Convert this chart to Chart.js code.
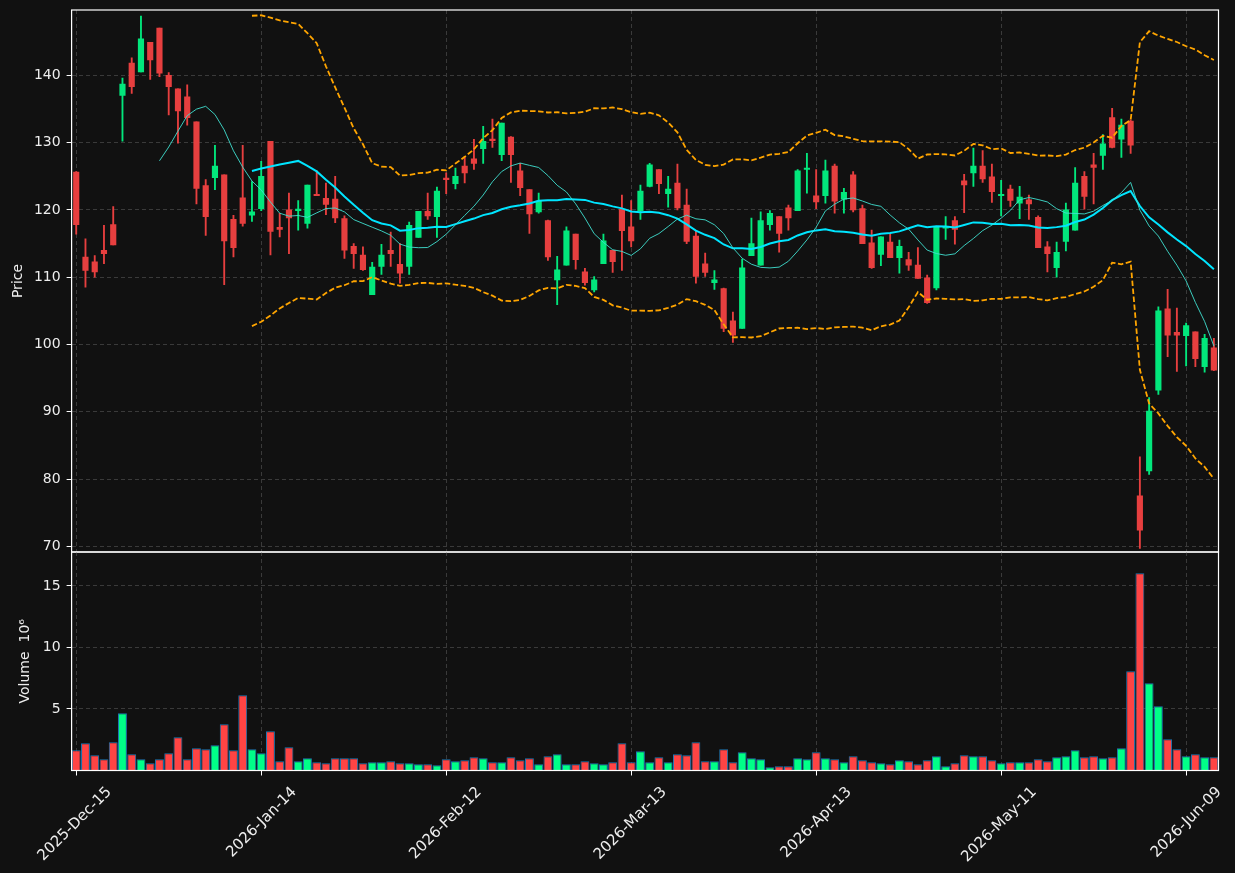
<!DOCTYPE html>
<html><head><meta charset="utf-8">
<script src="https://cdn.jsdelivr.net/npm/chart.js@4.4.0/dist/chart.umd.min.js"></script>
<style>
html,body{margin:0;padding:0;background:#111111;width:1235px;height:873px;overflow:hidden;}
canvas{position:absolute;left:0;}
#priceCanvas{top:0;}
#volCanvas{top:551px;}
</style></head><body>
<canvas id="priceCanvas" width="1235" height="560"></canvas>
<canvas id="volCanvas" width="1235" height="322"></canvas>
<script>
const dates = [
"2025-Dec-15","2025-Dec-16","2025-Dec-17","2025-Dec-18","2025-Dec-19","2025-Dec-22","2025-Dec-23","2025-Dec-24","2025-Dec-26","2025-Dec-29","2025-Dec-30","2025-Dec-31",
"2026-Jan-02","2026-Jan-05","2026-Jan-06","2026-Jan-07","2026-Jan-08","2026-Jan-09","2026-Jan-12","2026-Jan-13","2026-Jan-14","2026-Jan-15","2026-Jan-16","2026-Jan-20","2026-Jan-21","2026-Jan-22","2026-Jan-23","2026-Jan-26","2026-Jan-27","2026-Jan-28","2026-Jan-29","2026-Jan-30",
"2026-Feb-02","2026-Feb-03","2026-Feb-04","2026-Feb-05","2026-Feb-06","2026-Feb-09","2026-Feb-10","2026-Feb-11","2026-Feb-12","2026-Feb-13","2026-Feb-17","2026-Feb-18","2026-Feb-19","2026-Feb-20","2026-Feb-23","2026-Feb-24","2026-Feb-25","2026-Feb-26","2026-Feb-27",
"2026-Mar-02","2026-Mar-03","2026-Mar-04","2026-Mar-05","2026-Mar-06","2026-Mar-09","2026-Mar-10","2026-Mar-11","2026-Mar-12","2026-Mar-13","2026-Mar-16","2026-Mar-17","2026-Mar-18","2026-Mar-19","2026-Mar-20","2026-Mar-23","2026-Mar-24","2026-Mar-25","2026-Mar-26","2026-Mar-27","2026-Mar-30","2026-Mar-31",
"2026-Apr-01","2026-Apr-02","2026-Apr-06","2026-Apr-07","2026-Apr-08","2026-Apr-09","2026-Apr-10","2026-Apr-13","2026-Apr-14","2026-Apr-15","2026-Apr-16","2026-Apr-17","2026-Apr-20","2026-Apr-21","2026-Apr-22","2026-Apr-23","2026-Apr-24","2026-Apr-27","2026-Apr-28","2026-Apr-29","2026-Apr-30",
"2026-May-01","2026-May-04","2026-May-05","2026-May-06","2026-May-07","2026-May-08","2026-May-11","2026-May-12","2026-May-13","2026-May-14","2026-May-15","2026-May-18","2026-May-19","2026-May-20","2026-May-21","2026-May-22","2026-May-26","2026-May-27","2026-May-28","2026-May-29",
"2026-Jun-01","2026-Jun-02","2026-Jun-03","2026-Jun-04","2026-Jun-05","2026-Jun-08","2026-Jun-09","2026-Jun-10","2026-Jun-11","2026-Jun-12"];

const opens = [125.6,113.0,112.3,114.0,117.8,137.0,141.8,140.5,144.9,147.0,140.0,138.0,136.8,133.1,123.6,124.8,125.2,118.6,121.8,119.2,
120.2,130.2,117.4,120.0,119.9,118.0,122.3,121.7,121.6,118.7,114.6,113.3,107.4,111.6,114.0,111.9,111.6,115.9,119.8,119.0,
124.6,123.9,126.5,127.6,129.1,130.5,128.2,130.8,125.8,123.0,119.7,118.4,109.6,111.8,116.4,110.8,108.1,112.0,114.0,120.1,
117.5,119.9,123.5,126.0,122.4,124.0,120.7,116.1,112.0,109.2,108.3,103.5,102.4,113.2,111.8,117.8,119.0,120.3,119.9,126.0,
122.1,122.1,126.5,121.6,125.2,120.2,115.1,113.4,115.2,112.9,112.6,111.8,109.9,108.4,117.3,118.4,124.3,125.5,126.5,124.9,
122.1,123.1,121.0,121.5,118.9,114.5,111.4,115.3,117.0,125.0,126.7,128.1,133.7,130.5,133.2,77.5,81.2,93.2,105.3,101.8,
101.3,101.9,96.7,99.5];
const highs = [125.7,115.7,113.2,117.7,120.5,139.6,142.6,148.8,144.9,147.0,140.4,138.0,138.6,133.1,124.5,129.6,125.2,119.2,129.6,124.2,
127.2,130.2,119.5,122.5,121.4,123.7,125.8,124.0,125.0,119.1,115.0,114.5,112.2,114.9,116.7,115.0,118.2,119.8,122.5,123.4,
125.5,126.2,127.9,130.5,132.4,133.5,132.9,130.9,126.9,123.0,122.5,118.5,113.1,117.5,116.4,111.3,110.1,116.4,114.0,122.2,
121.4,123.7,126.9,126.0,125.0,126.8,123.1,116.8,113.6,111.0,108.4,104.8,112.7,118.8,119.7,119.9,119.0,120.7,126.0,128.4,
126.0,127.4,126.8,123.2,125.7,120.7,117.0,116.0,116.5,115.5,113.7,114.4,110.3,117.5,119.0,119.0,125.3,129.2,128.8,126.8,
124.4,123.7,123.5,122.2,119.1,115.3,115.2,121.0,126.3,125.7,128.4,131.2,135.1,133.5,133.4,83.3,92.1,105.6,108.2,105.4,
103.2,101.9,101.5,100.9];
const lows = [116.4,108.5,110.0,112.0,114.8,130.2,137.3,140.5,139.4,139.8,134.1,129.9,132.6,120.9,116.2,123.0,108.9,113.0,117.6,118.3,
119.9,113.3,116.0,113.5,117.0,117.3,122.1,119.3,118.1,112.8,111.3,111.0,107.4,110.4,111.6,109.1,110.4,115.9,118.6,115.9,
122.4,123.1,124.0,126.0,126.9,129.3,127.3,124.1,122.1,116.5,119.5,112.5,105.9,111.8,111.2,108.8,107.8,112.0,110.7,111.0,
114.5,118.6,123.4,122.4,120.4,120.0,115.0,109.1,110.1,108.2,101.9,100.3,102.4,113.2,111.8,117.0,113.7,117.0,119.9,122.5,
120.2,121.0,119.5,119.5,119.7,115.0,111.3,111.7,112.9,110.6,111.0,109.8,106.1,108.1,115.6,114.9,119.6,123.5,124.1,121.1,
119.1,120.5,118.7,118.6,114.4,110.8,110.0,113.9,117.0,120.1,120.9,126.0,129.2,127.8,128.4,69.7,80.7,92.6,98.2,96.0,
96.8,96.7,95.9,96.1];
const closes = [117.8,111.0,110.8,113.5,114.8,138.7,138.3,145.4,142.3,140.3,138.3,134.7,133.7,123.2,119.0,126.5,115.4,114.4,118.0,119.7,
125.0,116.8,117.1,118.8,120.0,123.7,122.1,120.8,118.8,114.0,113.5,111.1,111.5,113.3,113.5,110.6,117.7,119.8,119.1,122.8,
124.5,125.0,125.5,126.9,130.2,130.3,132.9,128.2,123.3,119.4,121.3,113.0,111.1,116.9,112.6,109.2,109.6,115.4,112.3,116.9,
115.4,122.8,126.7,123.9,123.1,120.3,115.3,110.1,110.7,109.6,102.4,101.4,111.4,115.0,118.4,119.5,116.5,118.8,125.8,126.2,
121.2,125.8,121.3,122.6,120.0,115.0,111.4,116.0,112.9,114.6,111.8,109.8,106.2,117.5,117.4,117.1,123.7,126.5,124.6,122.7,
122.2,121.4,121.9,120.9,114.4,113.5,113.7,120.0,124.0,122.0,126.3,129.8,129.3,132.6,129.6,72.4,90.1,105.0,101.4,101.4,
102.8,97.9,100.9,96.2];
// volume in millions (axis multiplier 10^6)
const volumes = [1.64,2.21,1.24,0.91,2.29,4.65,1.32,0.91,0.58,0.91,1.40,2.70,0.91,1.80,1.72,2.05,3.75,1.64,6.11,1.72,
1.40,3.19,0.75,1.88,0.75,0.99,0.67,0.58,0.99,0.99,0.99,0.58,0.67,0.67,0.75,0.58,0.58,0.50,0.50,0.42,
0.91,0.75,0.83,1.07,0.99,0.67,0.67,1.07,0.83,0.99,0.50,1.16,1.32,0.50,0.50,0.75,0.58,0.50,0.67,2.21,
0.67,1.56,0.67,1.07,0.67,1.32,1.24,2.29,0.75,0.75,1.72,0.67,1.48,0.99,0.91,0.26,0.34,0.34,0.99,0.91,
1.48,0.99,0.91,0.67,1.16,0.83,0.67,0.58,0.50,0.83,0.75,0.50,0.83,1.16,0.34,0.58,1.24,1.16,1.16,0.83,
0.58,0.67,0.67,0.67,0.91,0.75,1.07,1.16,1.64,1.07,1.16,0.99,1.07,1.80,8.06,16.03,7.09,5.22,2.54,1.72,
1.16,1.32,1.07,1.07];

const priceTicks = [70,80,90,100,110,120,130,140];
const volumeTicks = [5,10,15];
const dateTickIdx = [0,20,40,60,80,100,120];

// indicators derived from the close series (moving averages & Bollinger bands)
function rollingMean(arr, n){ return arr.map((_, i) => i < n-1 ? null : arr.slice(i-n+1, i+1).reduce((a,b)=>a+b,0)/n); }
function rollingStd(arr, n){ return arr.map((_, i) => { if (i < n-1) return null; const w = arr.slice(i-n+1, i+1); const m = w.reduce((a,b)=>a+b,0)/n; return Math.sqrt(w.reduce((a,b)=>a+(b-m)*(b-m),0)/n); }); }
const ma10 = rollingMean(closes, 10);
const ma20 = rollingMean(closes, 20);
const sd20 = rollingStd(closes, 20);
const bbUpper = ma20.map((m,i) => m === null ? null : m + 2*sd20[i]);
const bbLower = ma20.map((m,i) => m === null ? null : m - 2*sd20[i]);

const UP = '#02e77c', DOWN = '#e73f3f', VUP = '#00ff88', VDOWN = '#ff4444';
const isUp = closes.map((c,i) => c >= opens[i]);
const candleColors = isUp.map(u => u ? UP : DOWN);
const volColors = isUp.map(u => u ? VUP : VDOWN);
const bodies = opens.map((o,i) => [o, closes[i]]);
const wicks = lows.map((l,i) => [l, highs[i]]);

const GRID = '#3a3a3a';
const TXT = '#eeeeee';
const FONT = {family:'DejaVu Sans', size:14};
const XFONT = {family:'DejaVu Sans', size:15};
const AXIS_W = 71.6;

const spinePlugin = { id:'spines', afterDraw(chart){ const {ctx, chartArea:a} = chart; ctx.save(); ctx.setLineDash([]); ctx.strokeStyle='#ffffff'; ctx.lineWidth=1.2; ctx.strokeRect(a.left, a.top, a.right-a.left, a.bottom-a.top); ctx.restore(); } };

const xTicksSetter = s => { s.ticks = dateTickIdx.map(v => ({value:v})); };
const noPad = s => { s.paddingTop = 0; s.paddingBottom = 0; s.paddingLeft = 0; s.paddingRight = 0; };

new Chart(document.getElementById('priceCanvas'), {
  type:'bar',
  data:{ labels: dates, datasets:[
    {type:'line', data: ma10, borderColor:'rgba(64,224,208,0.9)', borderWidth:1, pointRadius:0, tension:0, order:0},
    {type:'line', data: ma20, borderColor:'#00e5ff', borderWidth:2, pointRadius:0, tension:0, order:0},
    {type:'line', data: bbUpper, borderColor:'#ffa500', borderWidth:1.8, borderDash:[5.5,2.5], pointRadius:0, tension:0, order:0},
    {type:'line', data: bbLower, borderColor:'#ffa500', borderWidth:1.8, borderDash:[5.5,2.5], pointRadius:0, tension:0, order:0},
    {type:'bar', data: bodies, backgroundColor: candleColors, barThickness:5.5, minBarLength:1.5, grouped:false, order:1},
    {type:'bar', data: wicks, backgroundColor: candleColors, barThickness:1.2, grouped:false, order:2}
  ]},
  options:{
    responsive:false, animation:false, events:[],
    layout:{padding:{left:0, right:16.5, top:10, bottom:8}},
    plugins:{legend:{display:false}, tooltip:{enabled:false}},
    scales:{
      x:{ offset:true, grid:{offset:false, color:GRID, drawTicks:false}, border:{display:false, dash:[4,3]},
          ticks:{display:false, autoSkip:false}, afterBuildTicks:xTicksSetter, afterFit:s=>{ s.height = 0; noPad(s); } },
      y:{ min:69.17, max:149.7, afterBuildTicks:s=>{ s.ticks = priceTicks.map(v=>({value:v})); }, afterFit:s=>{ s.width = AXIS_W; noPad(s); },
          grid:{color:GRID, tickColor:'#ffffff', tickLength:5, tickBorderDash:[]}, border:{display:false, dash:[4,3]},
          ticks:{color:TXT, font:FONT, padding:6},
          title:{display:true, text:'Price', color:TXT, font:FONT, padding:{top:10, bottom:0}} }
    }
  },
  plugins:[spinePlugin]
});

new Chart(document.getElementById('volCanvas'), {
  type:'bar',
  data:{ labels: dates, datasets:[
    {data: volumes, backgroundColor: volColors, borderColor:'#1f77b4', borderWidth:1, barPercentage:0.96, categoryPercentage:1}
  ]},
  options:{
    responsive:false, animation:false, events:[],
    layout:{padding:{left:0, right:16.5, top:1, bottom:0}},
    plugins:{legend:{display:false}, tooltip:{enabled:false}},
    scales:{
      x:{ offset:true, grid:{offset:false, color:GRID, tickColor:'#ffffff', tickLength:5, tickBorderDash:[]}, border:{display:false, dash:[4,3]},
          ticks:{autoSkip:false, minRotation:45, maxRotation:45, color:TXT, font:XFONT, padding:8, labelOffset:33,
                 callback:function(v){ return this.getLabelForValue(v); }},
          afterBuildTicks:xTicksSetter, afterFit:s=>{ s.height = 102.5; noPad(s); } },
      y:{ min:0, max:17.76, afterBuildTicks:s=>{ s.ticks = volumeTicks.map(v=>({value:v})); }, afterFit:s=>{ s.width = AXIS_W; noPad(s); },
          grid:{color:GRID, tickColor:'#ffffff', tickLength:5, tickBorderDash:[]}, border:{display:false, dash:[4,3]},
          ticks:{color:TXT, font:FONT, padding:6},
          title:{display:true, text:'Volume  10\u2076', color:TXT, font:FONT, padding:{top:17, bottom:0}} }
    }
  },
  plugins:[spinePlugin]
});
</script>
</body></html>
